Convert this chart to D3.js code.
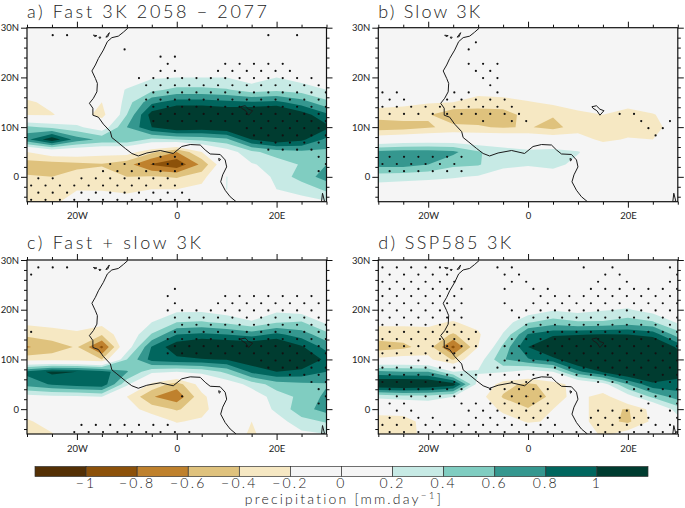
<!DOCTYPE html>
<html>
<head>
<meta charset="utf-8">
<script src="https://d3js.org/d3.v7.min.js"></script>
<style>
html,body{margin:0;padding:0;background:#fff}
svg{display:block}
text{font-family:Lato,"DejaVu Sans",sans-serif;font-weight:300;fill:#222}
</style>
</head>
<body>
<svg id="chart" width="685" height="508"></svg>
<script>
// grid axes of the fields (degrees)
const lons = [-30,-25,-20,-15,-10,-5,0,5,10,15,20,25,30];
const lats = [30,27.5,25,22.5,20,17.5,15,12.5,10,7.5,5,2.5,0,-2.5,-5];
const Z = [0,0,0,0,0,0,0,0,0,0,0,0,0];

const fastValues = [
 Z,Z,Z,
 [0,0,0,0,0,.02,.02,.02,.02,.02,.05,.05,.03],
 [0,0,0,0,.05,.18,.2,.2,.2,.1,.2,.12,.08],
 [0,0,0,0,.22,.35,.45,.45,.42,.3,.35,.3,.2],
 [-.25,-.12,0,-.2,.3,.75,.9,.9,.85,.82,.85,.7,.45],
 [-.22,-.22,-.05,-.3,.4,1.1,1.3,1.3,1.25,1.3,1.4,1.1,.85],
 [.45,.35,.25,.05,.6,1,1.2,1.15,1.2,1.4,1.5,1.4,1.05],
 [.75,1.15,.7,.55,.55,.35,.4,.45,.55,1,1.15,1.05,.75],
 [-.2,-.05,-.05,-.1,-.1,-.35,-.6,-.2,.08,.35,.5,.55,.55],
 [-.5,-.5,-.45,-.42,-.52,-.82,-.95,-.55,.03,.18,.28,.42,.6],
 [-.38,-.4,-.33,-.3,-.4,-.38,-.42,-.3,.205,.05,.25,.5,.68],
 [-.3,-.3,-.21,-.22,-.25,-.2,-.2,-.12,.205,0,.2,.25,.45],
 [-.25,-.25,-.1,-.05,-.1,-.05,-.03,0,.03,0,.12,.15,.18]
];
const slowValues = [
 Z,Z,Z,Z,Z,
 [0,0,0,-.03,-.1,-.1,-.03,0,0,0,0,0,0],
 [-.1,-.15,-.18,-.2,-.3,-.27,-.22,-.15,-.1,-.05,-.1,-.02,0],
 [-.32,-.3,-.38,-.55,-.5,-.5,-.32,-.38,-.25,-.2,-.3,-.22,-.05],
 [-.52,-.5,-.42,-.35,-.38,-.42,-.38,-.47,-.3,-.27,-.3,-.3,-.05],
 [-.05,0,.02,.02,.02,.02,-.02,-.05,-.1,-.25,-.18,-.2,0],
 [.65,.7,.7,.65,.42,.3,.25,.28,.22,0,0,0,0],
 [.68,.68,.6,.45,.42,.25,.22,.28,.12,0,0,0,0],
 [.3,.28,.25,.22,.18,.1,.05,.05,0,0,0,0,0],
 [.08,.05,.05,.03,.02,0,0,0,0,0,0,0,0],
 Z
];
const sumValues = [
 Z,Z,Z,Z,
 [0,0,0,0,0,.02,.15,.15,.08,.05,.15,.08,.03],
 [-.15,-.12,-.08,-.12,0,.2,.4,.42,.35,.22,.38,.42,.15],
 [-.35,-.3,-.25,-.38,0,.42,.8,.85,.8,.72,.85,.7,.47],
 [-.62,-.5,-.38,-.85,.05,.82,1.15,1.3,1.25,1.25,1.3,1.03,.72],
 [-.3,-.3,-.3,-.4,.4,.88,.95,.98,1.02,1.15,1.35,1.2,.95],
 [.85,1.05,1,.9,.62,.25,.2,.25,.45,.85,1,.95,.8],
 [.7,.82,.9,.95,.25,-.25,-.5,-.1,.05,.28,.5,.55,.58],
 [.1,.15,.15,.2,-.2,-.58,-.75,-.25,0,.05,.3,.45,.65],
 [0,0,0,0,-.1,-.3,-.42,-.3,.05,0,.25,.52,.68],
 [-.25,-.05,0,0,0,-.05,-.22,-.15,.1,-.2,.1,.33,.42],
 [-.35,-.22,0,0,0,0,0,0,0,-.25,0,.15,.2]
];
const sspValues = [
 Z,Z,Z,
 [0,0,0,0,0,0,0,0,0,.05,.05,0,0],
 [0,0,0,0,0,0,.05,.17,.12,.18,.22,.1,.05],
 [-.15,-.15,-.15,-.22,-.1,.08,.38,.5,.42,.42,.5,.42,.17],
 [-.3,-.3,-.28,-.42,-.25,.22,.82,.95,.98,1.02,1,.92,.5],
 [-.5,-.45,-.3,-.85,-.2,.45,1,1.4,1.45,1.45,1.5,1.35,.95],
 [-.15,-.1,-.15,-.42,.08,.58,.78,.92,1.25,1.4,1.5,1.5,1.2],
 [.65,.6,.6,.2,.22,.22,.1,.2,.75,1.02,1.25,1.3,1.1],
 [1.25,1.3,1.25,1.1,.1,-.33,-.45,-.3,-.1,.1,.6,.95,.92],
 [.25,.3,.3,.2,-.1,-.42,-.61,-.32,-.1,-.33,.1,.45,.7],
 [-.1,-.1,0,0,-.03,-.25,-.38,-.2,-.1,-.33,-.42,-.12,.3],
 [-.3,-.28,-.12,0,0,-.1,-.22,-.18,-.1,-.33,-.44,-.15,.1],
 [-.35,-.32,-.1,0,0,0,0,0,0,-.25,-.1,0,0]
];

// significance dots: [row, first column, last column]
const fastDots = [[0,1,2],[0,16,16],[0,18,18],[2,6,6],[3,9,10],[4,9,9],[4,13,17],[5,9,10],[5,13,18],[6,7,19],[7,8,20],[8,8,20],[9,8,20],[10,8,20],[11,9,20],[12,8,20],[13,15,20],[14,15,20],[15,16,20],[16,16,19],[17,9,10],[17,20,20],[18,5,10],[18,20,20],[19,5,10],[19,20,20],[20,0,1],[20,3,9],[21,0,10],[22,0,10],[23,0,11]];
const slowDots = [[1,6,6],[2,6,6],[4,6,8],[5,6,7],[6,7,8],[7,7,7],[8,0,1],[8,5,6],[8,8,8],[9,0,1],[9,4,8],[10,0,9],[11,0,9],[11,16,17],[12,7,7],[12,9,10],[12,18,18],[12,20,20],[13,18,19],[14,19,19],[17,0,5],[18,0,5],[19,0,5]];
const sumDots = [[0,0,2],[1,0,0],[3,10,10],[4,9,9],[4,13,19],[5,10,10],[5,13,20],[6,9,19],[7,10,20],[8,10,20],[9,0,0],[9,10,20],[10,9,20],[11,10,20],[12,9,20],[13,16,20],[14,16,20],[15,18,20],[16,19,20],[17,20,20],[18,10,10],[18,20,20],[19,20,20],[22,3,9],[23,3,11]];
const sspDots = [[0,0,4],[0,8,9],[0,14,14],[0,16,16],[0,20,20],[1,0,4],[1,8,9],[1,15,16],[1,20,20],[2,0,5],[2,9,10],[2,15,15],[2,17,17],[2,20,20],[3,0,5],[3,8,8],[3,10,11],[3,14,20],[4,0,5],[4,11,20],[5,0,5],[5,8,8],[5,10,20],[6,0,5],[6,9,20],[7,0,5],[7,9,20],[8,0,5],[8,10,20],[9,0,6],[9,10,20],[10,0,6],[10,9,20],[11,0,6],[11,8,20],[12,0,5],[12,9,20],[13,2,2],[13,4,4],[13,8,20],[14,0,5],[14,8,8],[14,12,20],[15,0,20],[16,0,5],[16,9,10],[16,15,20],[17,0,5],[17,7,11],[17,17,20],[18,1,5],[18,9,11],[18,18,20],[19,0,1],[19,5,11],[19,18,18],[19,20,20],[20,1,2],[20,6,11],[20,15,18],[20,20,20],[21,0,3],[21,6,11],[21,14,18],[21,20,20],[22,0,12],[22,15,19],[22,20,20],[23,0,20]];

// coast, islands and lakes as [lon, lat]
const coastLine = [[-9.8,29.9],[-10.7,29.1],[-11.7,28.3],[-13,28],[-13.9,27.2],[-14.7,25.5],[-15.7,23.8],[-16.3,22.5],[-17,21.3],[-16.3,19.8],[-15.9,18.8],[-16,17.1],[-16.7,15.8],[-17.5,14.8],[-16.8,13.8],[-16.8,12.4],[-15.7,12],[-14.7,10.6],[-13.3,9.1],[-13,7.9],[-12,7.1],[-10.3,5.7],[-9,4.7],[-7.7,4.2],[-6,4.8],[-3.3,5.3],[-.7,4.7],[1,6.1],[2.7,6.5],[4.7,6.4],[5.7,5.4],[6.7,4.6],[8.7,4.5],[9.7,3.4],[10,2],[9.2,.4],[8.8,-1],[9.7,-2.7],[10.7,-4],[11.9,-5]];
const lakeChad = [[12.8,14.1],[13.7,14.3],[14.4,13.6],[15.2,13.3],[14.4,12.4],[13.8,13.3],[13,13.8],[12.8,14.1]];
const canaryA = [[-16.7,28.5],[-16,28.4],[-16.4,28.2],[-16.7,28.5]];
const canaryB = [[-15.6,28.1],[-15.2,28.1],[-15.4,27.8],[-15.6,28.1]];
const canaryC = [[-14.2,28.1],[-13.5,29],[-13.8,28.2],[-14.2,28.1]];
const bioko = [[8.4,3.7],[8.8,3.5],[8.5,3.2],[8.4,3.7]];
const tanganyika = [[29.2,-3.3],[29.6,-4.9],[29,-5],[29.2,-3.3]];

const levels = [.2,.4,.6,.8,1];
const wetColors = ["#c7eae5","#80cdc1","#35978f","#01665e","#003c30"];
const dryColors = ["#f6e8c3","#dfc27d","#bf812d","#8c510a","#543005"];
const barColors = ["#543005","#8c510a","#bf812d","#dfc27d","#f6e8c3","#f5f5f5","#f5f5f5","#c7eae5","#80cdc1","#35978f","#01665e","#003c30"];
const barLabels = ["\u22121","\u22120.8","\u22120.6","\u22120.4","\u22120.2","0","0.2","0.4","0.6","0.8","1"];

const panels = [
 {id:"a",title:"a) Fast 3K 2058 \u2212 2077",tw:240,x:27,y:27.7,ty:-9.5,values:fastValues,dots:fastDots,flip:false},
 {id:"b",title:"b) Slow 3K",tw:102,x:378.3,y:27.7,ty:-9.5,values:slowValues,dots:slowDots,flip:true},
 {id:"c",title:"c) Fast + slow 3K",tw:174,x:27,y:260,ty:-11,values:sumValues,dots:sumDots,flip:false},
 {id:"d",title:"d) SSP585 3K",tw:133,x:378.3,y:260,ty:-11,values:sspValues,dots:sspDots,flip:true}
];
const W = 299.5, H = 174;
const svg = d3.select("#chart");

function lonTickText(d){return d===0?"0":Math.abs(d)+(d<0?"W":"E");}
function latTickText(d){return d===0?"0":Math.abs(d)+(d<0?"S":"N");}

panels.forEach(p=>{
  const g = svg.append("g").attr("transform",`translate(${p.x},${p.y})`);
  const xS = d3.scaleLinear().domain([-30,30]).range([0,W]);
  const yS = d3.scaleLinear().domain([30,-5]).range([0,H]);
  const clip = "clip-"+p.id;
  g.append("clipPath").attr("id",clip).append("rect").attr("width",W).attr("height",H);
  const plot = g.append("g").attr("clip-path",`url(#${clip})`);
  plot.append("rect").attr("width",W).attr("height",H).attr("fill","#f5f5f5");

  const nx = lons.length, ny = lats.length, dLon = lons[1]-lons[0], dLat = lats[0]-lats[1];
  const proj = d3.geoTransform({point(x,y){
    this.stream.point(xS(lons[0]+(x-.5)*dLon), yS(lats[0]-(y-.5)*dLat));
  }});
  const path = d3.geoPath(proj);
  const flat = p.values.flat();
  const draw = (vals,colors)=>{
    levels.forEach((t,i)=>{
      const c = d3.contours().size([nx,ny]).thresholds([t])(vals)[0];
      plot.append("path").attr("d",path(c)).attr("fill",colors[i]);
    });
  };
  draw(flat,wetColors);
  draw(flat.map(v=>-v),dryColors);

  // dots
  const dotPts = [];
  p.dots.forEach(([r,a,b])=>{
    const odd = (r%2===1) !== p.flip;
    const base = odd ? -29.17 : -27.73;
    d3.range(a,b+1).forEach(k=>dotPts.push([base+2.88*k, 28.5-1.44*r]));
  });
  plot.selectAll("circle").data(dotPts).join("circle")
    .attr("cx",d=>xS(d[0])).attr("cy",d=>yS(d[1])).attr("r",1.1).attr("fill","#111");

  // coast
  const line = d3.line().x(d=>xS(d[0])).y(d=>yS(d[1]));
  [coastLine,lakeChad,canaryA,canaryB,canaryC,bioko,tanganyika].forEach(l=>{
    plot.append("path").attr("d",line(l)).attr("fill","none").attr("stroke","#1a1a1a").attr("stroke-width",1);
  });

  // axes
  const styleAxis = sel=>{
    sel.select(".domain").remove();
    sel.selectAll("line").attr("stroke","#111").attr("stroke-width",1);
    sel.selectAll("text").style("font-size","9.5px").style("font-weight","400").attr("fill","#222");
  };
  const minorX = d3.range(-30,31,5).filter(d=>d%20!==0);
  const majorX = [-20,0,20];
  const minorY = d3.range(-4,31,2).filter(d=>d%10!==0);
  const majorY = [0,10,20,30];
  const none = ()=>"";
  const add = (tr,axis)=>g.append("g").attr("transform",tr).call(axis).call(styleAxis);
  add(`translate(0,${H})`,d3.axisBottom(xS).tickValues(minorX).tickSize(3).tickFormat(none));
  add(`translate(0,${H})`,d3.axisBottom(xS).tickValues(majorX).tickSize(6).tickPadding(5).tickFormat(lonTickText));
  add(`translate(0,0)`,d3.axisTop(xS).tickValues(minorX).tickSize(3).tickFormat(none));
  add(`translate(0,0)`,d3.axisTop(xS).tickValues(majorX).tickSize(6).tickFormat(none));
  add(`translate(0,0)`,d3.axisLeft(yS).tickValues(minorY).tickSize(3).tickFormat(none));
  add(`translate(0,0)`,d3.axisLeft(yS).tickValues(majorY).tickSize(6).tickPadding(2).tickFormat(latTickText));
  add(`translate(${W},0)`,d3.axisRight(yS).tickValues(minorY).tickSize(3).tickFormat(none));
  add(`translate(${W},0)`,d3.axisRight(yS).tickValues(majorY).tickSize(6).tickFormat(none));
  g.append("rect").attr("width",W).attr("height",H).attr("fill","none").attr("stroke","#111").attr("stroke-width",1.2);

  g.append("text").attr("x",0).attr("y",p.ty).attr("textLength",p.tw).attr("lengthAdjust","spacing")
    .style("font-size","18px").text(p.title);
});

// colour bar
const barX = d3.scaleLinear().domain([0,12]).range([35,648]);
const bar = svg.append("g");
bar.selectAll("rect").data(barColors).join("rect")
  .attr("x",(d,i)=>barX(i)).attr("y",466.5).attr("width",barX(1)-barX(0)).attr("height",10)
  .attr("fill",d=>d).attr("stroke","#333").attr("stroke-width",.7);
bar.selectAll("text").data(barLabels).join("text")
  .attr("x",(d,i)=>barX(i+1)).attr("y",487.5).attr("text-anchor","middle")
  .style("font-size","14px").style("letter-spacing","2.2px").text(d=>d);
const cap = svg.append("text").attr("x",344).attr("y",504).attr("text-anchor","middle")
  .style("font-size","14px").style("letter-spacing","2.2px");
cap.append("tspan").text("precipitation [mm.day");
cap.append("tspan").attr("dy",-5).style("font-size","10px").text("\u22121");
cap.append("tspan").attr("dy",5).text("]");
</script>
</body>
</html>
